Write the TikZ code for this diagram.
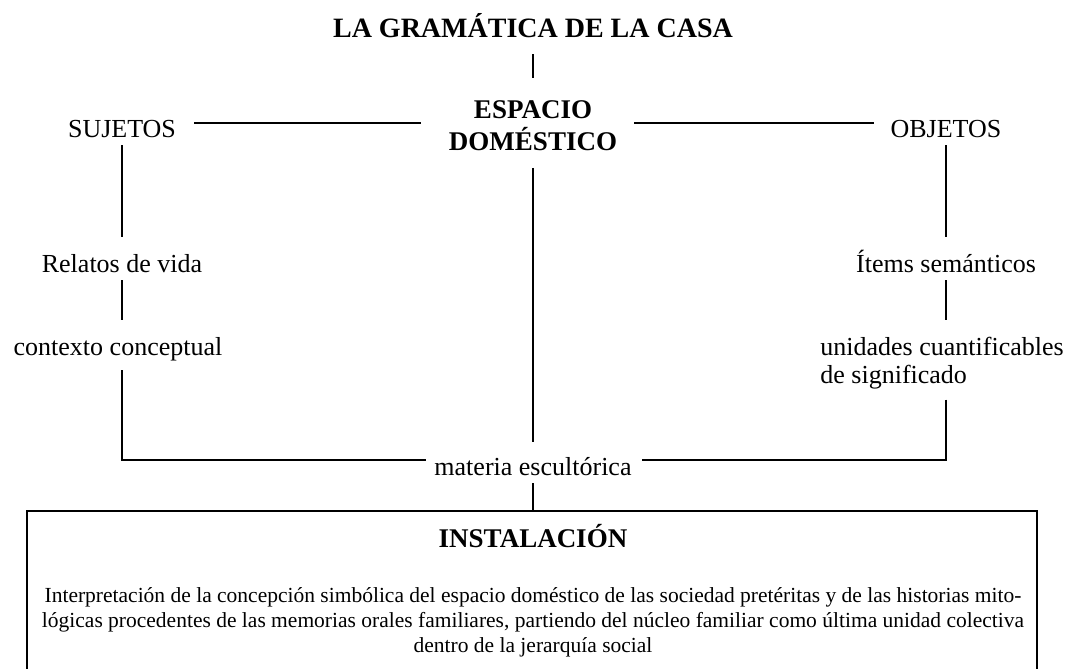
\documentclass[tikz,border=0pt]{standalone}
\usepackage{fontspec}
\setmainfont{Liberation Serif}
\usetikzlibrary{calc}

\begin{document}
\begin{tikzpicture}[x=0.5pt, y=-0.5pt,
        label_style/.style={font=\fontsize{13}{14}\selectfont, inner sep=0pt, anchor=base},
        head_style/.style={font=\fontsize{13.5}{16}\selectfont\bfseries, inner sep=0pt, align=center},
        text_style/.style={font=\fontsize{10.75}{12.5}\selectfont, inner sep=0pt, align=center},
        box_style/.style={draw=black, line width=1pt, minimum width=505pt, minimum height=100pt},
        edge_style/.style={draw=black, line width=1pt}]

        \useasboundingbox (0,0) rectangle (1066,669);
        \clip (0,0) rectangle (1066,669);

        \node [head_style, anchor=base, font=\fontsize{14}{16}\selectfont\bfseries](title) at (533,38) {LA GRAMÁTICA DE LA CASA};

        \node [head_style, anchor=north](espacio) at (533,100) {ESPACIO\\DOMÉSTICO};

        \node [label_style](sujetos) at (122,137) {SUJETOS};

        \node [label_style](objetos) at (946,137) {OBJETOS};

        \node [label_style](relatos) at (122,272) {Relatos de vida};

        \node [label_style](contexto) at (118,355) {contexto conceptual};

        \node [label_style](items) at (946,272) {Ítems semánticos};

        \node [label_style, align=left, anchor=north west](unidades) at (820,337) {unidades cuantificables\\de significado};

        \node [label_style](materia) at (533,475) {materia escultórica};

        \node [box_style, anchor=north](instalacion) at (532,510) {};

        \node [head_style, anchor=base](inst_title) at (533,547) {INSTALACIÓN};

        \node [text_style](inst_text) at (533,622) {Interpretación de la concepción simbólica del espacio doméstico de las sociedad pretéritas y de las historias mito-\\lógicas procedentes de las memorias orales familiares, partiendo del núcleo familiar como última unidad colectiva\\dentro de la jerarquía social};

        % connectors
        \draw [edge_style, shorten <=8pt, shorten >=11pt] (title.base) -- (title.base |- espacio.north);

        \draw [edge_style, shorten <=9pt, shorten >=14pt] ([yshift=7pt]sujetos.base east) -- ([yshift=7pt]sujetos.base east -| espacio.west);

        \draw [edge_style, shorten <=8.5pt, shorten >=8pt] ([yshift=7pt]objetos.base west -| espacio.east) -- ([yshift=7pt]objetos.base west);

        \draw [edge_style, shorten <=4pt, shorten >=17.5pt] (sujetos.base) -- (relatos.base);

        \draw [edge_style, shorten <=4pt, shorten >=17.5pt] (relatos.base) -- (relatos.base |- contexto.base);

        \draw [edge_style, shorten <=4pt, shorten >=17.5pt] (objetos.base) -- (items.base);

        \draw [edge_style, shorten <=4pt, shorten >=8.5pt] (items.base) -- (items.base |- unidades.north);

        \draw [edge_style, shorten <=8.5pt, shorten >=16.5pt] (espacio.south) -- (espacio.south |- materia.base);

        \draw [edge_style, shorten <=7.5pt, shorten >=4pt] (relatos.base |- contexto.base) |- ([yshift=3pt]materia.west);

        \draw [edge_style, shorten <=5pt, shorten >=5pt] (items.base |- unidades.south) |- ([yshift=3pt]materia.east);

        \draw [edge_style, shorten <=4pt] (materia.base) -- (materia.base |- instalacion.north);

        \end{tikzpicture}
\end{document}
